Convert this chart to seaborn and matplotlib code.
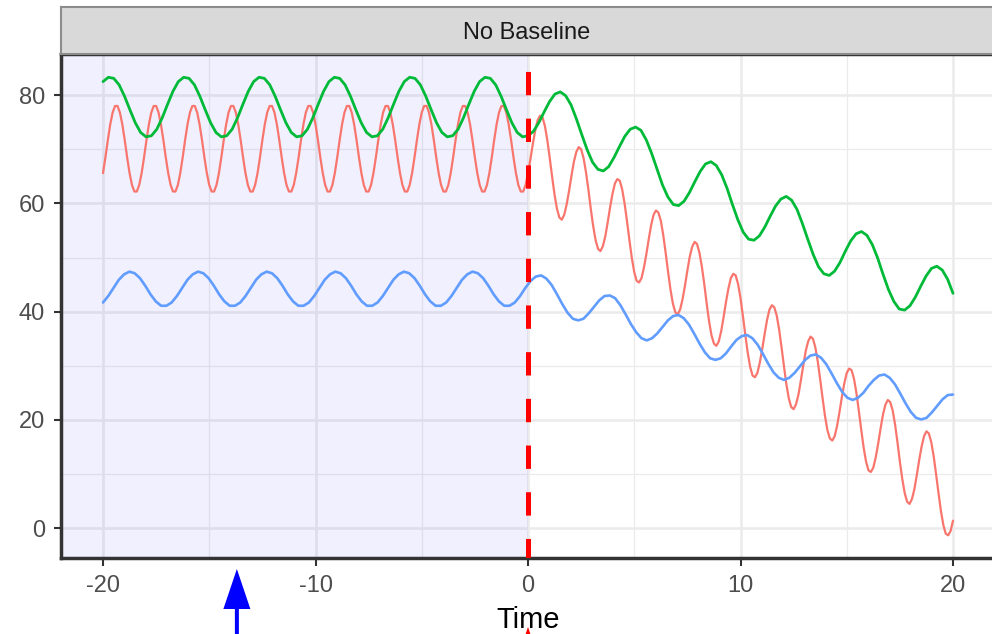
import numpy as np
import pandas as pd
import matplotlib
matplotlib.use("Agg")
import matplotlib.pyplot as plt
from matplotlib.patches import FancyArrow
import seaborn as sns

# sample grids (one per curve) and values
time_red = np.linspace(-20, 20, 353)
time_green = np.linspace(-20, 20, 159)
time_blue = np.linspace(-20, 20, 162)

red = [
    65.6, 68.5, 71.7, 74.6, 76.8, 78.0, 78.0, 76.8, 74.6, 71.7, 68.5, 65.6, 63.4, 62.2, 62.2, 63.4,
    65.6, 68.5, 71.7, 74.6, 76.8, 78.0, 78.0, 76.8, 74.6, 71.7, 68.5, 65.6, 63.4, 62.2, 62.2, 63.4,
    65.6, 68.5, 71.7, 74.6, 76.8, 78.0, 78.0, 76.8, 74.6, 71.7, 68.5, 65.6, 63.4, 62.2, 62.2, 63.4,
    65.6, 68.5, 71.7, 74.6, 76.8, 78.0, 78.0, 76.8, 74.6, 71.7, 68.5, 65.6, 63.4, 62.2, 62.2, 63.4,
    65.6, 68.5, 71.7, 74.6, 76.8, 78.0, 78.0, 76.8, 74.6, 71.7, 68.5, 65.6, 63.4, 62.2, 62.2, 63.4,
    65.6, 68.5, 71.7, 74.6, 76.8, 78.0, 78.0, 76.8, 74.6, 71.7, 68.5, 65.6, 63.4, 62.2, 62.2, 63.4,
    65.6, 68.5, 71.7, 74.6, 76.8, 78.0, 78.0, 76.8, 74.6, 71.7, 68.5, 65.6, 63.4, 62.2, 62.2, 63.4,
    65.6, 68.5, 71.7, 74.6, 76.8, 78.0, 78.0, 76.8, 74.6, 71.7, 68.5, 65.6, 63.4, 62.2, 62.2, 63.4,
    65.6, 68.5, 71.7, 74.6, 76.8, 78.0, 78.0, 76.8, 74.6, 71.7, 68.5, 65.6, 63.4, 62.2, 62.2, 63.4,
    65.6, 68.5, 71.7, 74.6, 76.8, 78.0, 78.0, 76.8, 74.6, 71.7, 68.5, 65.6, 63.4, 62.2, 62.2, 63.4,
    65.6, 68.5, 71.7, 74.6, 76.8, 78.0, 78.0, 76.8, 74.6, 71.7, 68.5, 65.6, 63.4, 62.2, 62.2, 63.4,
    65.6,
    68.2, 71.0, 73.5, 75.4, 76.2, 75.9, 74.3, 71.7, 68.4, 64.9, 61.6, 59.0, 57.4, 57.0, 57.9, 59.8,
    62.3, 65.1, 67.7, 69.5, 70.4, 70.0, 68.4, 65.8, 62.6, 59.0, 55.8, 53.2, 51.6, 51.2, 52.1, 53.9,
    56.5, 59.3, 61.8, 63.7, 64.5, 64.2, 62.6, 60.0, 56.7, 53.2, 49.9, 47.3, 45.7, 45.4, 46.2, 48.1,
    50.6, 53.4, 56.0, 57.9, 58.7, 58.3, 56.8, 54.2, 50.9, 47.4, 44.1, 41.5, 39.9, 39.5, 40.4, 42.3,
    44.8, 47.6, 50.2, 52.0, 52.9, 52.5, 50.9, 48.3, 45.1, 41.5, 38.2, 35.6, 34.1, 33.7, 34.5, 36.4,
    39.0, 41.8, 44.3, 46.2, 47.0, 46.7, 45.1, 42.5, 39.2, 35.7, 32.4, 29.8, 28.2, 27.9, 28.7, 30.6,
    33.1, 35.9, 38.5, 40.4, 41.2, 40.8, 39.3, 36.7, 33.4, 29.9, 26.6, 24.0, 22.4, 22.0, 22.9, 24.7,
    27.3, 30.1, 32.7, 34.5, 35.4, 35.0, 33.4, 30.8, 27.5, 24.0, 20.7, 18.1, 16.6, 16.2, 17.0, 18.9,
    21.5, 24.3, 26.8, 28.7, 29.5, 29.2, 27.6, 25.0, 21.7, 18.2, 14.9, 12.3, 10.7, 10.4, 11.2, 13.1,
    15.6, 18.4, 21.0, 22.8, 23.7, 23.3, 21.8, 19.2, 15.9, 12.3, 9.1, 6.5, 4.9, 4.5, 5.4, 7.2,
    9.8, 12.6, 15.1, 17.0, 17.9, 17.5, 15.9, 13.3, 10.0, 6.5, 3.2, 0.6, -1.0, -1.3, -0.5, 1.4,
]

green = [
    82.5, 83.3, 83.1, 81.9, 79.8, 77.3, 74.9, 73.1, 72.3, 72.5, 73.7, 75.8, 78.3, 80.7,
    82.5, 83.3, 83.1, 81.9, 79.8, 77.3, 74.9, 73.1, 72.3, 72.5, 73.7, 75.8, 78.3, 80.7,
    82.5, 83.3, 83.1, 81.9, 79.8, 77.3, 74.9, 73.1, 72.3, 72.5, 73.7, 75.8, 78.3, 80.7,
    82.5, 83.3, 83.1, 81.9, 79.8, 77.3, 74.9, 73.1, 72.3, 72.5, 73.7, 75.8, 78.3, 80.7,
    82.5, 83.3, 83.1, 81.9, 79.8, 77.3, 74.9, 73.1, 72.3, 72.5, 73.7, 75.8, 78.3, 80.7,
    82.5, 83.3, 83.1, 81.9, 79.8, 77.3, 74.9, 73.1, 72.3, 72.5,
    73.3, 74.9, 76.9, 78.8, 80.2, 80.6, 79.9, 78.2, 75.6, 72.7, 69.9, 67.6, 66.3, 66.0,
    66.8, 68.5, 70.5, 72.4, 73.7, 74.1, 73.5, 71.7, 69.2, 66.3, 63.4, 61.2, 59.8, 59.6,
    60.4, 62.0, 64.0, 65.9, 67.3, 67.7, 67.0, 65.3, 62.8, 59.8, 57.0, 54.7, 53.4, 53.2,
    54.0, 55.6, 57.6, 59.5, 60.8, 61.3, 60.6, 58.9, 56.3, 53.4, 50.6, 48.3, 47.0, 46.7,
    47.5, 49.1, 51.2, 53.1, 54.4, 54.8, 54.1, 52.4, 49.9, 46.9, 44.1, 41.9, 40.5, 40.3,
    41.1, 42.7, 44.7, 46.6, 48.0, 48.4, 47.7, 46.0, 43.4,
]

blue = [
    41.7, 42.9, 44.4, 45.9, 46.9, 47.4, 47.1, 46.2, 44.8, 43.2, 41.9, 41.1, 41.1,
    41.7, 42.9, 44.4, 45.9, 46.9, 47.4, 47.1, 46.2, 44.8, 43.2, 41.9, 41.1, 41.1,
    41.7, 42.9, 44.4, 45.9, 46.9, 47.4, 47.1, 46.2, 44.8, 43.2, 41.9, 41.1, 41.1,
    41.7, 42.9, 44.4, 45.9, 46.9, 47.4, 47.1, 46.2, 44.8, 43.2, 41.9, 41.1, 41.1,
    41.7, 42.9, 44.4, 45.9, 46.9, 47.4, 47.1, 46.2, 44.8, 43.2, 41.9, 41.1, 41.1,
    41.7, 42.9, 44.4, 45.9, 46.9, 47.4, 47.1, 46.2, 44.8, 43.2, 41.9, 41.1, 41.1,
    41.7, 42.9, 44.4,
    45.7, 46.5, 46.7, 46.1, 44.9, 43.2, 41.4, 39.8, 38.7, 38.4, 38.7, 39.7, 40.9,
    42.1, 42.9, 43.0, 42.5, 41.2, 39.5, 37.7, 36.2, 35.1, 34.7, 35.1, 36.0, 37.2,
    38.4, 39.2, 39.4, 38.8, 37.6, 35.9, 34.1, 32.5, 31.4, 31.1, 31.4, 32.3, 33.6,
    34.8, 35.5, 35.7, 35.1, 33.9, 32.2, 30.4, 28.8, 27.8, 27.4, 27.8, 28.7, 29.9,
    31.1, 31.9, 32.1, 31.5, 30.3, 28.6, 26.8, 25.2, 24.1, 23.7, 24.1, 25.0, 26.3,
    27.4, 28.2, 28.4, 27.8, 26.6, 24.9, 23.1, 21.5, 20.4, 20.1, 20.4, 21.4, 22.6,
    23.8, 24.6, 24.7,
]

x_ticks = [-20, -10, 0, 10, 20]
y_ticks = [0, 20, 40, 60, 80]
panel_title = 'No Baseline'
treatment_time = 0
arrow_time = -13.7

sns.set_theme(style="whitegrid")
plt.rcParams['font.family'] = ['Liberation Sans', 'DejaVu Sans']
plt.rcParams['axes.unicode_minus'] = False

df = pd.concat([
    pd.DataFrame({'Time': time_red, 'value': red, 'unit': 'A'}),
    pd.DataFrame({'Time': time_green, 'value': green, 'unit': 'B'}),
    pd.DataFrame({'Time': time_blue, 'value': blue, 'unit': 'C'}),
])
colors = {'A': '#F8766D', 'B': '#00BA38', 'C': '#619CFF'}
widths = {'A': 1.6, 'B': 2.0, 'C': 1.9}

fig = plt.figure(figsize=(9.92, 6.34), dpi=100)
ax = fig.add_axes([60.5 / 992, 76.5 / 634, 935 / 992, 503.5 / 634])

# pre-treatment shading
ax.axvspan(-22, treatment_time, color='#0000FF', alpha=0.06, lw=0, zorder=1)

for u in ['A', 'B', 'C']:
    sns.lineplot(data=df[df['unit'] == u], x='Time', y='value', color=colors[u],
                 linewidth=widths[u], estimator=None, ax=ax, zorder=3)

ax.axvline(treatment_time, color='#FF0000', lw=3.6, ls=(0.76, (4.67, 4.67)), zorder=4)

ax.set_xlim(-22, 22)
ax.set_ylim(-5.4, 87.6)
ax.set_xticks(x_ticks)
ax.set_yticks(y_ticks)
ax.set_xticks([-15, -5, 5, 15], minor=True)
ax.set_yticks([10, 30, 50, 70], minor=True)
ax.grid(which='major', color='#EBEBEB', lw=1.8)
ax.grid(which='minor', color='#EBEBEB', lw=0.9)
ax.set_facecolor('white')
ax.set_xlabel('')
ax.set_ylabel('')
ax.tick_params(axis='both', which='major', bottom=True, left=True, labelsize=17,
               labelcolor='#4D4D4D', color='#333333', length=5.4, width=1.5)
ax.tick_params(axis='x', pad=7)
ax.tick_params(axis='y', pad=5.8)
ax.tick_params(which='minor', length=0)
for sp in ax.spines.values():
    sp.set_color('#333333')
    sp.set_linewidth(2.5)

# facet strip
strip = fig.add_axes([60.5 / 992, 580 / 634, 935 / 992, 47 / 634])
strip.set_facecolor('#D9D9D9')
strip.set_xticks([])
strip.set_yticks([])
strip.grid(False)
for sp in strip.spines.values():
    sp.set_color('#8C8C8C')
    sp.set_linewidth(1.5)
fig.text(527 / 992, 594.7 / 634, panel_title, ha='center', va='baseline',
         fontsize=17, color='#1A1A1A')

fig.text(528 / 992, 5.7 / 634, 'Time', ha='center', va='baseline', fontsize=21, color='black')

# arrows under the axis
px_per_unit = 935 / 44
fig.add_artist(FancyArrow((60.5 + (arrow_time + 22) * px_per_unit) / 100, -0.2, 0, 0.85,
                          width=0.04, head_width=0.27, head_length=0.40,
                          length_includes_head=True, color='#0000FF', lw=0,
                          transform=fig.dpi_scale_trans))
fig.add_artist(FancyArrow((60.5 + (treatment_time + 22) * px_per_unit) / 100, -1.0, 0, 1.07,
                          width=0.04, head_width=0.27, head_length=0.40,
                          length_includes_head=True, color='#FF0000', lw=0,
                          transform=fig.dpi_scale_trans))

fig.savefig('out.png', dpi=100)
